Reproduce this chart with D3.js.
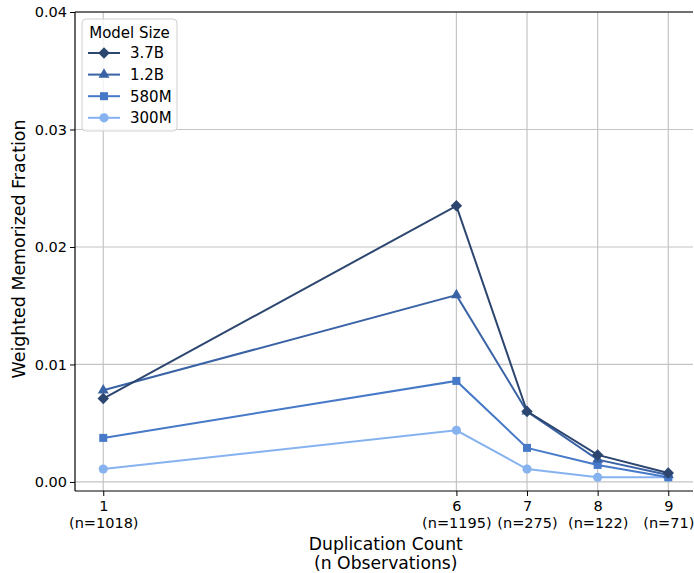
<!DOCTYPE html>
<html>
<head>
<meta charset="utf-8">
<script src="https://cdn.jsdelivr.net/npm/d3@7"></script>
<style>
body { margin: 0; background: #fff; }
svg { display: block; font-family: "DejaVu Sans", sans-serif; }
</style>
</head>
<body>
<div id="chart"></div>
<script>
// x positions and their labels
const counts = [1, 6, 7, 8, 9];
const nObs = [1018, 1195, 275, 122, 71];

const modelSizes = ["3.7B", "1.2B", "580M", "300M"];
const values37B = [0.0071, 0.0235, 0.0060, 0.0023, 0.00077];
const values12B = [0.0078, 0.0159, 0.0060, 0.0019, 0.0006];
const values580M = [0.00375, 0.0086, 0.0029, 0.00145, 0.0004];
const values300M = [0.0011, 0.0044, 0.0011, 0.0004, 0.0004];
const yTicks = [0, 0.01, 0.02, 0.03, 0.04];

const series = [
    { name: modelSizes[0], values: values37B, color: "#2c4670", symbol: "diamond" },
    { name: modelSizes[1], values: values12B, color: "#3a63a6", symbol: "triangle" },
    { name: modelSizes[2], values: values580M, color: "#4679c8", symbol: "square" },
    { name: modelSizes[3], values: values300M, color: "#86b2f0", symbol: "circle" }
];

const width = 694, height = 573;
const margin = { top: 12, right: 1, bottom: 82, left: 75 };
const tickFont = 14.5;

const svg = d3.select("#chart").append("svg")
    .attr("width", width)
    .attr("height", height);

const x = d3.scaleLinear()
    .domain([0.6, 9.35])
    .range([margin.left, width - margin.right]);

const y = d3.scaleLinear()
    .domain([-0.00077, 0.04])
    .range([height - margin.bottom, margin.top]);

// grid
svg.append("g")
    .selectAll("line")
    .data(counts)
    .join("line")
    .attr("x1", d => x(d)).attr("x2", d => x(d))
    .attr("y1", margin.top).attr("y2", height - margin.bottom)
    .attr("stroke", "#c4c4c4").attr("stroke-width", 1.2);

svg.append("g")
    .selectAll("line")
    .data(yTicks)
    .join("line")
    .attr("x1", margin.left).attr("x2", width - margin.right)
    .attr("y1", d => y(d)).attr("y2", d => y(d))
    .attr("stroke", "#c4c4c4").attr("stroke-width", 1.2);

// axes
const yAxis = svg.append("g")
    .attr("transform", `translate(${margin.left},0)`)
    .call(d3.axisLeft(y).tickValues(yTicks).tickFormat(d3.format(".2f")).tickSize(5).tickPadding(3).tickSizeOuter(0));
yAxis.select(".domain").remove();
yAxis.selectAll("text").attr("font-size", tickFont).attr("fill", "#000").attr("font-family", "DejaVu Sans");

const xAxis = svg.append("g")
    .attr("transform", `translate(0,${height - margin.bottom})`)
    .call(d3.axisBottom(x).tickValues(counts).tickFormat("").tickSize(5).tickSizeOuter(0));
xAxis.select(".domain").remove();

xAxis.selectAll(".tick").each(function (d, i) {
    const t = d3.select(this).append("text")
        .attr("fill", "#000")
        .attr("font-size", tickFont)
        .attr("font-family", "DejaVu Sans")
        .attr("text-anchor", "middle");
    t.append("tspan").attr("x", 0).attr("y", 20).text(d);
    t.append("tspan").attr("x", 0).attr("y", 37).text(`(n=${nObs[i]})`);
});

// spines
svg.append("line")
    .attr("x1", margin.left).attr("x2", margin.left)
    .attr("y1", margin.top).attr("y2", height - margin.bottom)
    .attr("stroke", "#000").attr("stroke-width", 1.2);
svg.append("line")
    .attr("x1", margin.left).attr("x2", width - margin.right)
    .attr("y1", height - margin.bottom).attr("y2", height - margin.bottom)
    .attr("stroke", "#000").attr("stroke-width", 1.2);
svg.append("line")
    .attr("x1", margin.left).attr("x2", width - margin.right)
    .attr("y1", margin.top).attr("y2", margin.top)
    .attr("stroke", "#000").attr("stroke-width", 1.2);

// labels
svg.append("text")
    .attr("x", x(5)).attr("y", 550)
    .attr("text-anchor", "middle")
    .attr("font-size", 17.2)
    .text("Duplication Count");
svg.append("text")
    .attr("x", x(5)).attr("y", 569)
    .attr("text-anchor", "middle")
    .attr("font-size", 17.2)
    .text("(n Observations)");
svg.append("text")
    .attr("transform", `translate(25,249) rotate(-90)`)
    .attr("text-anchor", "middle")
    .attr("font-size", 17.4)
    .text("Weighted Memorized Fraction");

const symbols = {
    diamond: d3.symbol().type(d3.symbolSquare).size(66),
    triangle: d3.symbol().type(d3.symbolTriangle).size(52),
    square: d3.symbol().type(d3.symbolSquare).size(64),
    circle: d3.symbol().type(d3.symbolCircle).size(66)
};
const symRotate = s => s === "diamond" ? " rotate(45)" : "";

const line = d3.line()
    .x((d, i) => x(counts[i]))
    .y(d => y(d));

// draw smallest first so largest is on top
series.slice().reverse().forEach(s => {
    const g = svg.append("g");
    g.append("path")
        .attr("d", line(s.values))
        .attr("fill", "none")
        .attr("stroke", s.color)
        .attr("stroke-width", 2);
    g.selectAll("path.pt")
        .data(s.values)
        .join("path")
        .attr("class", "pt")
        .attr("d", symbols[s.symbol]())
        .attr("transform", (d, i) => `translate(${x(counts[i])},${y(d)})${symRotate(s.symbol)}`)
        .attr("fill", s.color);
});

// legend
const lg = svg.append("g").attr("transform", "translate(82,19)");
lg.append("rect")
    .attr("width", 95).attr("height", 112)
    .attr("rx", 4)
    .attr("fill", "#fff").attr("fill-opacity", 0.8)
    .attr("stroke", "#d0d0d0");
lg.append("text")
    .attr("x", 47.5).attr("y", 19)
    .attr("text-anchor", "middle")
    .attr("font-size", 15)
    .text("Model Size");
series.forEach((s, i) => {
    const yy = 34 + i * 21.6;
    lg.append("line")
        .attr("x1", 6).attr("x2", 38)
        .attr("y1", yy).attr("y2", yy)
        .attr("stroke", s.color).attr("stroke-width", 2);
    lg.append("path")
        .attr("d", symbols[s.symbol]())
        .attr("transform", `translate(22,${yy})${symRotate(s.symbol)}`)
        .attr("fill", s.color);
    lg.append("text")
        .attr("x", 48).attr("y", yy + 5.3)
        .attr("font-size", 15)
        .text(s.name);
});
</script>
</body>
</html>
